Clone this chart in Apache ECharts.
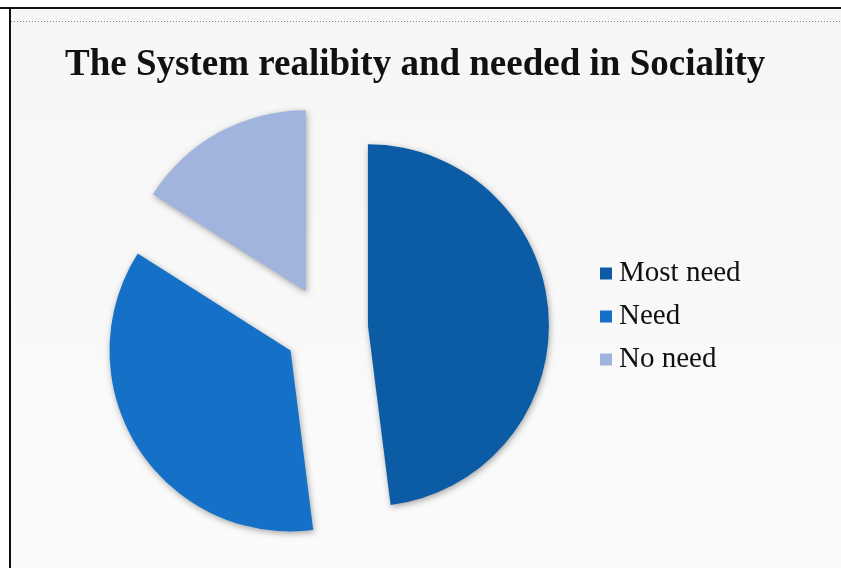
<!DOCTYPE html>
<html>
<head>
<meta charset="utf-8">
<script src="https://cdn.jsdelivr.net/npm/echarts@6/dist/echarts.min.js"></script>
<style>
  html, body { margin: 0; padding: 0; background: #fff; }
  #chart { width: 841px; height: 568px; }
</style>
</head>
<body>
<div id="chart"></div>
<script>
// chart data
const categories = ['Most need', 'Need', 'No need']
const values = [48, 36, 16]
const colors = ['#0c5ba5', '#1571c7', '#a0b4de']

const chart = echarts.init(document.getElementById('chart'))

const option = {
  backgroundColor: '#fff',
  color: colors,
  animation: false,
  graphic: [
    // gray panel background
    {
      type: 'rect',
      shape: { x: 11, y: 9, width: 830, height: 559 },
      style: {
        fill: new echarts.graphic.LinearGradient(0, 0, 0, 1, [
          { offset: 0, color: '#f6f6f6' },
          { offset: 1, color: '#fbfbfb' }
        ])
      },
      z: -10
    },
    // frame lines
    { type: 'line', shape: { x1: 0, y1: 8, x2: 841, y2: 8 }, style: { stroke: '#111', lineWidth: 2 } },
    { type: 'line', shape: { x1: 10, y1: 8, x2: 10, y2: 568 }, style: { stroke: '#111', lineWidth: 2 } },
    { type: 'line', shape: { x1: 11, y1: 21.5, x2: 841, y2: 21.5 }, style: { stroke: '#888', lineWidth: 1, lineDash: [1, 2] } }
  ],
  title: {
    text: 'The System realibity and needed in Sociality',
    left: 60,
    top: 42,
    textStyle: {
      fontFamily: 'Liberation Serif',
      fontWeight: 'bold',
      fontSize: 37,
      color: '#111'
    }
  },
  legend: {
    orient: 'vertical',
    left: 595,
    top: 254,
    itemWidth: 12,
    itemHeight: 12,
    itemGap: 14,
    icon: 'rect',
    data: categories,
    textStyle: {
      fontFamily: 'Liberation Serif',
      fontSize: 29,
      lineHeight: 29,
      color: '#111',
      padding: [0, 0, 0, 2]
    }
  },
  series: [
    {
      type: 'pie',
      center: [326, 328],
      radius: 181,
      startAngle: 90,
      clockwise: true,
      selectedMode: 'multiple',
      selectedOffset: 42,
      label: { show: false },
      labelLine: { show: false },
      emphasis: { disabled: true },
      itemStyle: {
        shadowBlur: 6,
        shadowColor: 'rgba(0,0,0,0.35)',
        shadowOffsetX: 1,
        shadowOffsetY: 2
      },
      data: categories.map((name, i) => ({ name, value: values[i], selected: true }))
    }
  ]
}

chart.setOption(option)
</script>
</body>
</html>
